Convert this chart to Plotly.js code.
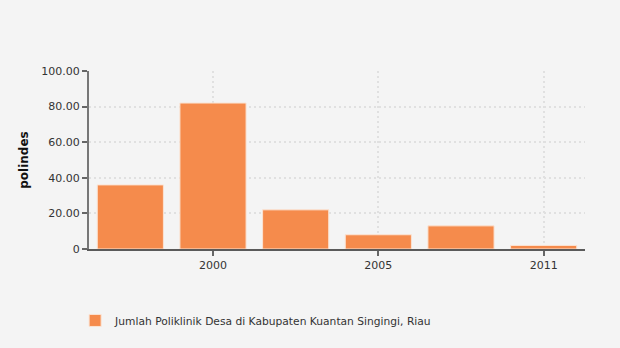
<!DOCTYPE html>
<html>
<head>
<meta charset="utf-8">
<script src="https://cdn.plot.ly/plotly-3.0.1.min.js"></script>
<style>html,body{margin:0;padding:0;background:#f4f4f4;}#chart{width:620px;height:348px;}</style>
</head>
<body>
<div id="chart"></div>
<script>
var categories = ["1998", "2000", "2003", "2005", "2008", "2011"];
var values = [36, 82, 22, 8, 13, 2];
var shownTicks = ["2000", "2005", "2011"];
var yTickVals = [0, 20, 40, 60, 80, 100];
var yTickText = ["0", "20.00", "40.00", "60.00", "80.00", "100.00"];
var seriesName = "Jumlah Poliklinik Desa di Kabupaten Kuantan Singingi, Riau";

var font = "DejaVu Sans, Verdana, sans-serif";
var trace = {
  type: "bar",
  x: categories,
  y: values,
  name: seriesName,
  marker: {color: "#f58b4c", line: {color: "#fbe3d3", width: 1}},
  hoverinfo: "x+y"
};
var layout = {
  width: 620, height: 348,
  paper_bgcolor: "#f4f4f4", plot_bgcolor: "#f4f4f4",
  margin: {l: 89, r: 35, t: 71, b: 99},
  bargap: 0.2,
  showlegend: true,
  legend: {orientation: "h", x: -0.028, xanchor: "left", y: -0.32, yanchor: "top",
           itemwidth: 30,
           font: {family: font, size: 10.7, color: "#333"}, bgcolor: "rgba(0,0,0,0)"},
  xaxis: {type: "category", tickmode: "array", tickvals: shownTicks, ticktext: shownTicks,
          showgrid: true, gridcolor: "#e0e0e0", griddash: "2px,3px", gridwidth: 2,
          showline: true, linecolor: "#5a5a5a", linewidth: 2,
          ticks: "outside", ticklen: 5, tickcolor: "#666", tickwidth: 2,
          tickfont: {family: font, size: 11, color: "#333"}, zeroline: false},
  yaxis: {range: [0, 100], tickmode: "array", tickvals: yTickVals, ticktext: yTickText,
          showgrid: true, gridcolor: "#e0e0e0", griddash: "2px,3px", gridwidth: 2,
          showline: true, linecolor: "#777", linewidth: 2,
          ticks: "outside", ticklen: 5, tickcolor: "#666", tickwidth: 2,
          tickfont: {family: font, size: 11, color: "#333"}, zeroline: false,
          title: {text: "<b>polindes</b>", font: {family: font, size: 12, color: "#111"}, standoff: 10}}
};
Plotly.newPlot("chart", [trace], layout, {displayModeBar: false});
</script>
</body>
</html>
